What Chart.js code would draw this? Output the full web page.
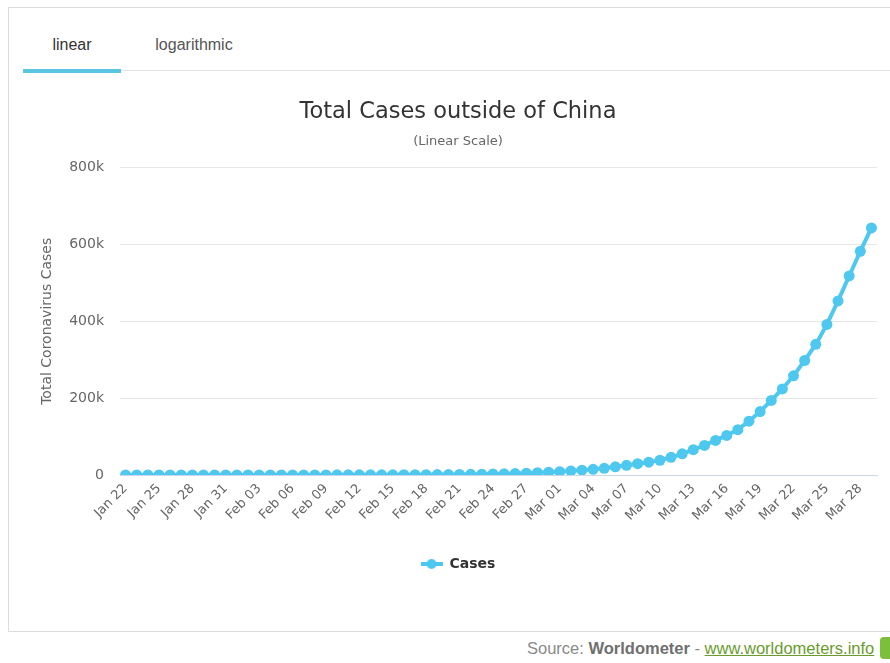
<!DOCTYPE html>
<html>
<head>
<meta charset="utf-8">
<title>Total Cases outside of China</title>
<script src="https://cdn.jsdelivr.net/npm/chart.js@4/dist/chart.umd.min.js"></script>
<style>
    html, body { margin: 0; padding: 0; background: #fff; }
    body { width: 890px; height: 663px; position: relative; overflow: hidden; }
    .panel {
        position: absolute; left: 8px; top: 7px; width: 900px; height: 625px;
        border: 1px solid #dcdcdc; box-sizing: border-box;
    }
    .tabs {
        position: absolute; left: 14px; top: 0; width: 900px; height: 62px;
        border-bottom: 1px solid #e4e4e4;
        font-family: "Liberation Sans", Arial, sans-serif; font-size: 16px;
    }
    .tab { position: absolute; top: 28px; text-align: center; }
    .tab.active { left: 0; width: 98px; color: #333; }
    .tab.active::after {
        content: ""; position: absolute; left: 0; top: 33px; width: 98px; height: 4px;
        background: #5bc6e4;
    }
    .tab.other { left: 116px; width: 110px; color: #555; }
    .chart-wrap { position: absolute; left: 20px; top: 78px; width: 870px; height: 511px; }
    .source {
        position: absolute; left: 527px; top: 639px; white-space: nowrap;
        font-family: "Liberation Sans", Arial, sans-serif; font-size: 16.5px; color: #8a8a8a;
    }
    .source b { color: #6f6f6f; }
    .source a { color: #6a9b2e; text-decoration: underline; }
    .badge {
        position: absolute; left: 880px; top: 637px; width: 16px; height: 22px;
        background: #7cbf3c; border-radius: 4px;
    }
</style>
</head>
<body>
<div class="panel">
    <div class="tabs">
        <div class="tab active">linear</div>
        <div class="tab other">logarithmic</div>
    </div>
</div>
<div class="chart-wrap"><canvas id="casesChart"></canvas></div>
<div class="source">Source: <b>Worldometer</b> - <a>www.worldometers.info</a></div>
<div class="badge"></div>

<script>
// Daily dates, Jan 22 .. Mar 29
const dates = [
    'Jan 22', 'Jan 23', 'Jan 24', 'Jan 25', 'Jan 26', 'Jan 27', 'Jan 28', 'Jan 29', 'Jan 30', 'Jan 31',
    'Feb 01', 'Feb 02', 'Feb 03', 'Feb 04', 'Feb 05', 'Feb 06', 'Feb 07', 'Feb 08', 'Feb 09', 'Feb 10',
    'Feb 11', 'Feb 12', 'Feb 13', 'Feb 14', 'Feb 15', 'Feb 16', 'Feb 17', 'Feb 18', 'Feb 19', 'Feb 20',
    'Feb 21', 'Feb 22', 'Feb 23', 'Feb 24', 'Feb 25', 'Feb 26', 'Feb 27', 'Feb 28', 'Feb 29',
    'Mar 01', 'Mar 02', 'Mar 03', 'Mar 04', 'Mar 05', 'Mar 06', 'Mar 07', 'Mar 08', 'Mar 09', 'Mar 10',
    'Mar 11', 'Mar 12', 'Mar 13', 'Mar 14', 'Mar 15', 'Mar 16', 'Mar 17', 'Mar 18', 'Mar 19', 'Mar 20',
    'Mar 21', 'Mar 22', 'Mar 23', 'Mar 24', 'Mar 25', 'Mar 26', 'Mar 27', 'Mar 28', 'Mar 29'
];

// Total cases outside of China
const totalCases = [
    9, 15, 23, 35, 51, 63, 75, 88, 108, 132,
    145, 160, 172, 200, 230, 260, 290, 310, 330, 360,
    400, 445, 500, 530, 620, 680, 800, 890, 1010, 1130,
    1350, 1760, 2200, 2600, 3000, 3700, 4700, 6000, 7200,
    8800, 10600, 12700, 14900, 17500, 21300, 25200, 29400, 33500, 38400,
    46000, 55000, 66000, 77000, 90000, 103000, 118000, 140000, 165000, 194000,
    224000, 258000, 298000, 340000, 392000, 453000, 518000, 582000, 643000
];

const yTicks = [0, 200000, 400000, 600000, 800000];

const LINE_COLOR = '#4fc8f0';
const AXIS_FONT = 'DejaVu Sans, sans-serif';

// legend symbol: short line with a dot in the middle
function legendSymbol() {
    const c = document.createElement('canvas');
    c.width = 22; c.height = 12;
    const g = c.getContext('2d');
    g.strokeStyle = LINE_COLOR;
    g.lineWidth = 4;
    g.beginPath(); g.moveTo(0, 6); g.lineTo(22, 6); g.stroke();
    g.fillStyle = LINE_COLOR;
    g.beginPath(); g.arc(11, 6, 5, 0, Math.PI * 2); g.fill();
    return c;
}

const ctx = document.getElementById('casesChart').getContext('2d');
new Chart(ctx, {
    type: 'line',
    data: {
        labels: dates,
        datasets: [{
            label: 'Cases',
            data: totalCases,
            borderColor: LINE_COLOR,
            backgroundColor: LINE_COLOR,
            borderWidth: 4,
            pointRadius: 5.5,
            pointBorderWidth: 0,
            pointBackgroundColor: LINE_COLOR,
            tension: 0,
            fill: false
        }]
    },
    options: {
        responsive: true,
        maintainAspectRatio: false,
        animation: false,
        layout: { padding: { left: 19, right: 13, top: 0, bottom: 8 } },
        scales: {
            x: {
                offset: true,
                grid: { display: false, drawTicks: false },
                border: { display: true, color: '#ccd6eb', width: 1 },
                afterFit: function(scale) {
                    scale.height += 17;
                },
                ticks: {
                    autoSkip: false,
                    maxRotation: 45,
                    minRotation: 45,
                    padding: 6,
                    color: '#666',
                    font: { family: AXIS_FONT, size: 13 },
                    callback: function(value, index) {
                        return index % 3 === 0 ? dates[index] : '';
                    }
                }
            },
            y: {
                min: 0,
                max: 800000,
                afterBuildTicks: function(scale) {
                    scale.ticks = yTicks.map(v => ({ value: v }));
                },
                afterFit: function(scale) {
                    scale.width = 81;
                },
                grid: { color: '#e6e6e6', drawTicks: false },
                border: { display: false },
                ticks: {
                    padding: 16,
                    color: '#666',
                    font: { family: AXIS_FONT, size: 14 },
                    callback: function(value) {
                        return value === 0 ? '0' : (value / 1000) + 'k';
                    }
                },
                title: {
                    display: true,
                    text: 'Total Coronavirus Cases',
                    color: '#666',
                    font: { family: AXIS_FONT, size: 14 },
                    padding: { top: 0, bottom: 6 }
                }
            }
        },
        plugins: {
            title: {
                display: true,
                text: 'Total Cases outside of China',
                color: '#333',
                font: { family: AXIS_FONT, size: 22.5, weight: 'normal' },
                padding: { top: 21, bottom: 4 }
            },
            subtitle: {
                display: true,
                text: '(Linear Scale)',
                color: '#666',
                font: { family: AXIS_FONT, size: 13 },
                padding: { top: 4, bottom: 18 }
            },
            legend: {
                position: 'bottom',
                labels: {
                    usePointStyle: true,
                    pointStyleWidth: 22,
                    color: '#333',
                    font: { family: AXIS_FONT, size: 14, weight: 'bold' },
                    padding: 10,
                    generateLabels: function(chart) {
                        const items = Chart.defaults.plugins.legend.labels.generateLabels(chart);
                        return items.map(item => Object.assign(item, { pointStyle: legendSymbol() }));
                    }
                }
            },
            tooltip: { enabled: false }
        }
    }
});
</script>
</body>
</html>
